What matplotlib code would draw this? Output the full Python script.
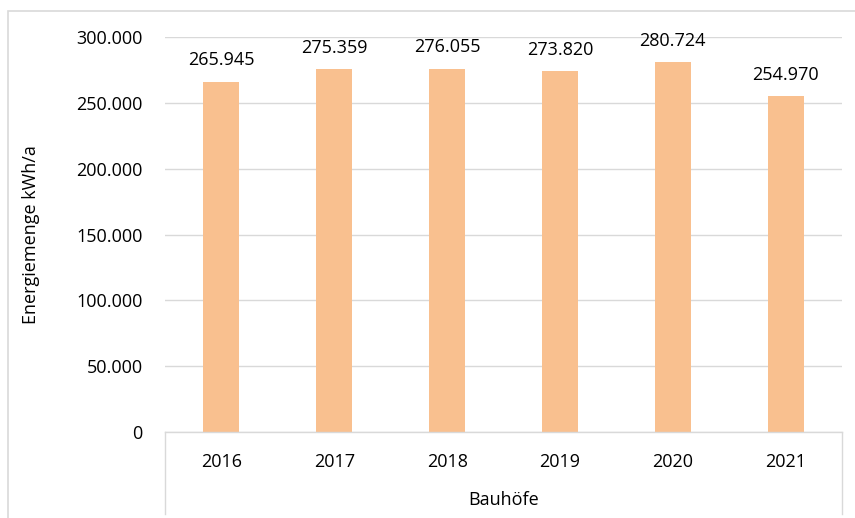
import matplotlib
matplotlib.use("Agg")
import matplotlib.pyplot as plt
from matplotlib.lines import Line2D
from matplotlib.patches import Rectangle
from matplotlib.ticker import FuncFormatter

years = ["2016", "2017", "2018", "2019", "2020", "2021"]
values = [265945, 275359, 276055, 273820, 280724, 254970]
yticks = [0, 50000, 100000, 150000, 200000, 250000, 300000]
ylabel = "Energiemenge kWh/a"
xlabel = "Bauhöfe"

plt.rcParams['font.family'] = ['Open Sans', 'DejaVu Sans']

W, H = 855, 518
fig = plt.figure(figsize=(W / 100, H / 100), dpi=100)
left, right, top, bottom = 165, 842, 37, 432
ax = fig.add_axes([left / W, 1 - bottom / H, (right - left) / W, (bottom - top) / H])

def fmt(v):
    return f"{int(round(v)):,}".replace(",", ".")

x = range(len(years))
ax.bar(x, values, width=0.32, color="#F9C08F", zorder=3)
ax.set_xlim(-0.5, len(years) - 0.5)
ax.set_ylim(0, 300000)
ax.set_yticks(yticks)
ax.yaxis.set_major_formatter(FuncFormatter(lambda v, p: fmt(v)))
ax.set_xticks(list(x))
ax.set_xticklabels(years)
ax.grid(axis="y", color="#D9D9D9", linewidth=1.0, zorder=0)
ax.tick_params(axis="both", length=0, labelsize=13, colors="black")
ax.tick_params(axis="y", pad=16)
ax.tick_params(axis="x", pad=15)
for s in ["top", "right", "left"]:
    ax.spines[s].set_visible(False)
ax.spines["bottom"].set_color("#D9D9D9")
ax.spines["bottom"].set_linewidth(1.0)
ax.spines["bottom"].set_zorder(4)

for xi, v in zip(x, values):
    ax.annotate(fmt(v), (xi, v), xytext=(0, 9), textcoords="offset points",
                ha="center", va="bottom", fontsize=13)

ax.set_ylabel(ylabel, fontsize=13)
ax.yaxis.set_label_coords(-(165 - 40) / (right - left), 0.5)

fig.text((left + right) / 2 / W, 1 - 500 / H, xlabel, ha="center", va="center", fontsize=13)

# extended category separators
for px in (left, right):
    fig.add_artist(Line2D([px / W, px / W], [1 - bottom / H, 1 - 514 / H],
                          color="#D9D9D9", linewidth=1.0))

# chart area border
fig.add_artist(Rectangle((8 / W, -0.1), 1.2, 1 - 11 / H + 0.1, fill=False,
                         edgecolor="#D9D9D9", linewidth=1.2, transform=fig.transFigure))

fig.savefig("out.png", dpi=100)
